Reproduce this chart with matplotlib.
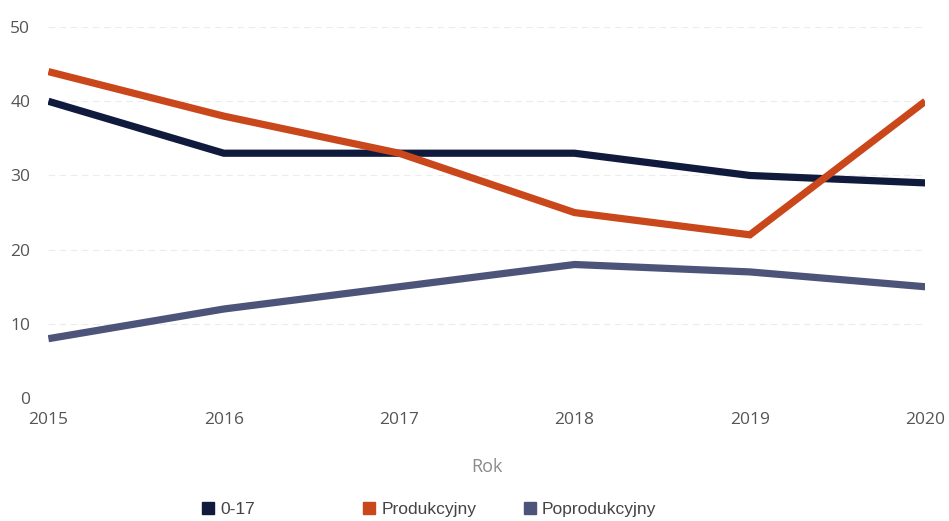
import matplotlib.pyplot as plt
from matplotlib.lines import Line2D

## Data

years = [2015, 2016, 2017, 2018, 2019, 2020]
age_0_17 = [40, 33, 33, 33, 30, 29]
produkcyjny = [44, 38, 33, 25, 22, 40]
poprodukcyjny = [8, 12, 15, 18, 17, 15]

series_names = ['0-17', 'Produkcyjny', 'Poprodukcyjny']
series_colors = ['#0f1a3c', '#c9471b', '#4d5479']
y_ticks = [0, 10, 20, 30, 40, 50]

plt.rcParams['font.family'] = ['Open Sans', 'DejaVu Sans']

fig = plt.figure(figsize=(9.49, 5.21), dpi=100)
ax = fig.add_axes([0.051, 0.236, 0.924, 0.712])

for vals, color in zip([age_0_17, produkcyjny, poprodukcyjny], series_colors):
    ax.plot(years, vals, color=color, linewidth=5.2, solid_capstyle='butt',
            solid_joinstyle='miter')

ax.set_xlim(years[0], years[-1])
ax.set_ylim(0, 50)
ax.set_xticks(years)
ax.set_yticks(y_ticks)
ax.tick_params(length=0, labelsize=12.5, labelcolor='#555555')
ax.tick_params(axis='y', pad=13)
ax.tick_params(axis='x', pad=10)
for s in ax.spines.values():
    s.set_visible(False)
ax.grid(axis='y', color='#ececec', linestyle=(0, (6, 4)), linewidth=0.8)
ax.set_axisbelow(True)
ax.set_xlabel('Rok', fontsize=13, color='#8a8a8a', labelpad=22)

# legend items placed one by one, like in the original
legend_x = [0.208, 0.378, 0.547]
for name, color, x in zip(series_names, series_colors, legend_x):
    h = Line2D([], [], color=color, marker='s', linestyle='none', markersize=9)
    leg = fig.legend([h], [name], loc='center left', bbox_to_anchor=(x, 0.022),
                     frameon=False, fontsize=12, handletextpad=0.1,
                     borderaxespad=0, borderpad=0, handlelength=1.2,
                     prop={'family': ['Liberation Sans', 'DejaVu Sans'], 'size': 12.5})
    for t in leg.get_texts():
        t.set_color('#444444')

fig.savefig('out.png', dpi=100)
